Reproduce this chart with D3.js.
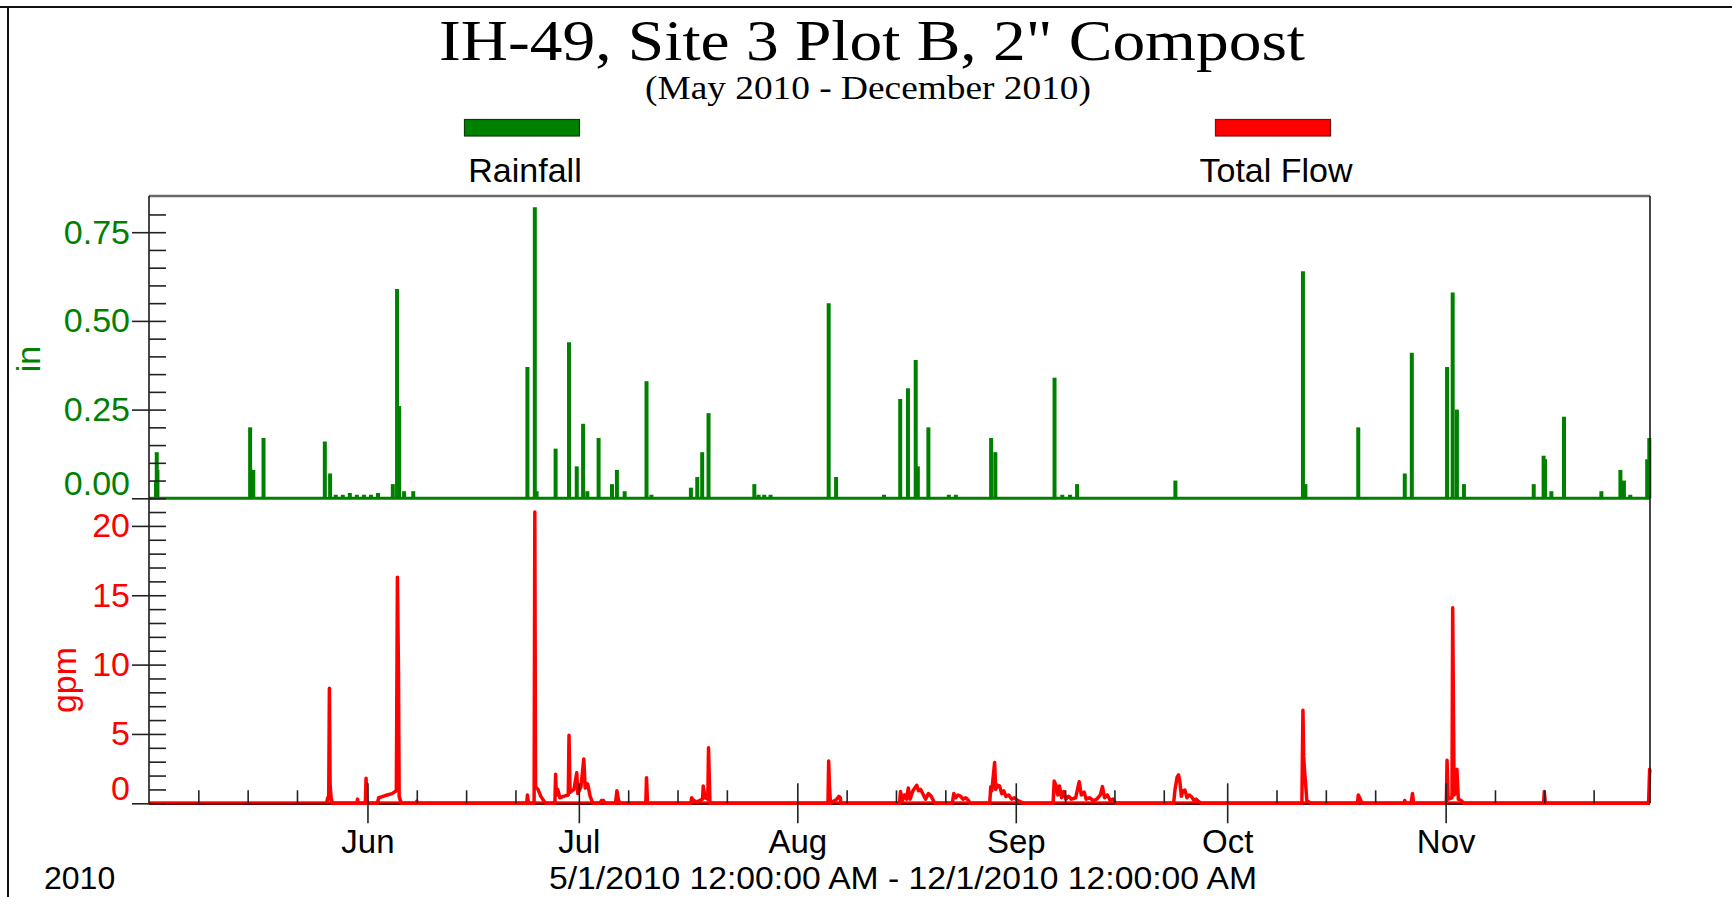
<!DOCTYPE html>
<html>
<head>
<meta charset="utf-8">
<script src="https://cdn.jsdelivr.net/npm/d3@7"></script>
<style>
  html, body { margin: 0; padding: 0; background: #fff; }
  svg { display: block; }
  .sans { font-family: "Liberation Sans", Arial, Helvetica, sans-serif; }
  .serif { font-family: "Liberation Serif", "Times New Roman", serif; }
</style>
</head>
<body>
<svg id="chart" width="1732" height="897"></svg>
<script>
// ---- text ----
const titleText = 'IH-49, Site 3 Plot B, 2" Compost';
const subtitleText = "(May 2010 - December 2010)";
const seriesNames = ["Rainfall", "Total Flow"];
const seriesUnits = ["in", "gpm"];
const seriesColors = ["#008000", "#ff0000"];
const yearLabel = "2010";
const rangeLabel = "5/1/2010 12:00:00 AM - 12/1/2010 12:00:00 AM";

// ---- axes ----
const rainTicks = [0, 0.25, 0.5, 0.75];
const flowTicks = [0, 5, 10, 15, 20];
const monthTicks = ["2010-06-01", "2010-07-01", "2010-08-01", "2010-09-01", "2010-10-01", "2010-11-01"];
const recordStart = "2010-05-01";
const recordDays = 213;

// ---- data: [elapsed days since 2010-05-01 00:00, value] ----
const rainfall = [
  [1.0, 0.05], [1.1, 0.13], [1.2, 0.08], [14.35, 0.20], [14.8, 0.08], [16.25, 0.17],
  [24.95, 0.16], [25.7, 0.07], [26.5, 0.01], [27.5, 0.01], [28.5, 0.015], [29.5, 0.01],
  [30.5, 0.01], [31.5, 0.01], [32.5, 0.015], [34.6, 0.04], [35.2, 0.59], [35.5, 0.26],
  [36.2, 0.02], [37.5, 0.02], [53.7, 0.37], [54.75, 0.82], [55.0, 0.02], [57.7, 0.14],
  [59.6, 0.44], [60.7, 0.09], [61.6, 0.21], [62.2, 0.02], [63.8, 0.17], [65.7, 0.04],
  [66.4, 0.08], [67.5, 0.02], [70.6, 0.33], [71.3, 0.01], [76.9, 0.03], [77.8, 0.06],
  [78.5, 0.13], [79.4, 0.24], [85.9, 0.04], [86.5, 0.01], [87.3, 0.01], [88.2, 0.01],
  [96.45, 0.55], [97.5, 0.06], [104.3, 0.01], [106.6, 0.28], [107.7, 0.31], [108.8, 0.39],
  [109.1, 0.09], [110.6, 0.20], [113.5, 0.01], [114.5, 0.01], [119.5, 0.17], [120.1, 0.13],
  [128.5, 0.34], [129.6, 0.01], [130.7, 0.01], [131.7, 0.04], [145.65, 0.05], [163.75, 0.64],
  [164.1, 0.04], [171.6, 0.20], [178.2, 0.07], [179.2, 0.41], [184.2, 0.37], [185.0, 0.58],
  [185.6, 0.25], [186.6, 0.04], [196.5, 0.04], [197.9, 0.12], [198.1, 0.11], [199.0, 0.02],
  [200.8, 0.23], [206.1, 0.02], [208.8, 0.08], [209.3, 0.05], [210.2, 0.01], [212.6, 0.11],
  [212.9, 0.17]
];

const totalFlow = [
  [25.2, 0], [25.35, 0.4], [25.5, 0.3], [25.6, 8.3], [25.7, 1.3], [25.85, 0.4], [26.0, 0],
  [29.5, 0], [29.6, 0.3], [29.7, 0],
  [30.7, 0], [30.8, 1.8], [30.95, 0],
  [32.4, 0], [32.6, 0.4], [33.2, 0.5], [33.8, 0.6], [34.5, 0.7], [35.1, 0.9], [35.25, 16.3], [35.4, 9.5], [35.5, 0.5], [35.8, 0],
  [37.9, 0], [38.0, 0.15], [38.1, 0],
  [53.6, 0], [53.7, 0.6], [53.85, 0],
  [54.65, 0], [54.75, 21.0], [54.85, 1.2], [55.2, 1.0], [55.6, 0.5], [56.0, 0.2], [56.3, 0],
  [57.6, 0], [57.7, 2.1], [57.8, 0.6], [58.0, 1.0], [58.3, 0.4], [58.8, 0.5], [59.5, 0.6], [59.6, 4.9],
  [59.75, 0.8], [60.3, 1.0], [60.7, 2.2], [60.85, 0.7], [61.3, 1.2], [61.7, 3.2], [61.9, 1.1],
  [62.25, 1.4], [62.6, 0.5], [63.0, 0],
  [64.0, 0], [64.2, 0.2], [64.5, 0.2], [64.7, 0],
  [66.2, 0], [66.4, 0.9], [66.6, 0.3], [66.8, 0],
  [70.5, 0], [70.6, 1.85], [70.75, 0],
  [76.9, 0], [77.0, 0.4], [77.3, 0.2], [77.8, 0.1], [78.55, 0.3], [78.65, 1.25], [78.9, 0.4], [79.3, 0.3], [79.4, 4.0], [79.6, 0],
  [96.35, 0], [96.45, 3.05], [96.55, 1.4], [96.7, 0], [97.6, 0.3], [97.9, 0.5], [98.1, 0.4], [98.2, 0],
  [106.5, 0], [106.65, 0.85], [106.9, 0.2], [107.2, 0.6], [107.5, 0.3], [107.75, 1.1], [108.0, 0.3],
  [108.4, 0.9], [108.95, 1.3], [109.2, 0.9], [109.5, 1.0], [109.9, 0.6], [110.2, 0.3], [110.6, 0.7],
  [111.0, 0.5], [111.3, 0.2], [111.5, 0],
  [114.0, 0], [114.2, 0.7], [114.5, 0.4], [114.8, 0.6], [115.2, 0.5], [115.5, 0.3], [115.9, 0.4], [116.3, 0.2], [116.5, 0],
  [119.3, 0], [119.45, 1.2], [119.6, 0.9], [120.0, 2.95], [120.15, 1.0], [120.4, 1.3], [120.7, 1.25],
  [121.0, 0.7], [121.3, 0.9], [121.6, 0.5], [122.0, 0.6], [122.4, 0.3], [122.8, 0.4], [123.3, 0.2],
  [123.7, 0.1], [124.2, 0],
  [128.3, 0], [128.45, 1.6], [128.7, 1.3], [128.95, 0.6], [129.2, 1.25], [129.5, 0.4], [129.8, 0.85],
  [130.1, 0.3], [130.5, 0.5], [130.9, 0.3], [131.5, 0.4], [132.0, 1.55], [132.3, 0.6], [132.7, 0.8],
  [133.0, 0.3], [133.5, 0.4], [134.0, 0.2], [134.5, 0.3], [135.0, 0.6], [135.3, 1.2], [135.6, 0.4],
  [136.0, 0.6], [136.4, 0.2], [136.8, 0.3], [137.2, 0],
  [145.4, 0], [145.6, 1.0], [145.9, 1.9], [146.1, 2.05], [146.3, 1.5], [146.5, 0.5], [146.7, 0.9],
  [147.0, 0.95], [147.3, 0.4], [147.6, 0.6], [147.9, 0.5], [148.3, 0.2], [148.6, 0.3], [149.0, 0.1], [149.4, 0],
  [163.6, 0], [163.75, 6.7], [163.85, 3.4], [164.0, 2.2], [164.1, 1.6], [164.3, 0.2], [164.6, 0.1], [164.9, 0],
  [171.5, 0], [171.6, 0.6], [171.8, 0.4], [172.0, 0.15], [172.2, 0],
  [178.1, 0], [178.2, 0.2], [178.3, 0],
  [179.1, 0], [179.3, 0.7], [179.45, 0],
  [184.1, 0], [184.2, 3.1], [184.35, 0.3], [184.9, 0.4], [185.0, 14.1], [185.2, 0.6], [185.5, 0.8],
  [185.6, 2.45], [185.8, 0.3], [186.2, 0.2], [186.6, 0],
  [197.9, 0], [198.0, 0.85], [198.15, 0],
  [212.8, 0], [212.95, 2.45], [213.0, 2.2]
];

// ---- layout ----
const X0 = 149, X1 = 1650;
const FRAME_TOP = 196, BASE = 803.3;

const svg = d3.select("#chart");
const parse = d3.utcParse("%Y-%m-%d");
const t0 = parse(recordStart);
const atDay = d => new Date(t0.getTime() + d * 864e5);

const x = d3.scaleUtc().domain([t0, atDay(recordDays)]).range([X0, X1]);
const yRain = d3.scaleLinear().domain([0, 0.75]).range([498.3, 232.2]);
const yFlow = d3.scaleLinear().domain([0, 20]).range([BASE, 525.9]);

// outer page border (top and left)
svg.append("line").attr("x1", 0).attr("x2", 1732).attr("y1", 7).attr("y2", 7)
  .attr("stroke", "#111").attr("stroke-width", 2);
svg.append("line").attr("x1", 8).attr("x2", 8).attr("y1", 7).attr("y2", 897)
  .attr("stroke", "#111").attr("stroke-width", 2);

// titles
svg.append("text").attr("class", "serif")
  .attr("x", 872).attr("y", 60).attr("text-anchor", "middle")
  .attr("font-size", 56).attr("fill", "#000")
  .attr("textLength", 866).attr("lengthAdjust", "spacingAndGlyphs")
  .text(titleText);
svg.append("text").attr("class", "serif")
  .attr("x", 868).attr("y", 99).attr("text-anchor", "middle")
  .attr("font-size", 33).attr("fill", "#000")
  .attr("textLength", 446).attr("lengthAdjust", "spacingAndGlyphs")
  .text(subtitleText);

// legend
const legendX = [522, 1273];
seriesNames.forEach((name, i) => {
  svg.append("rect")
    .attr("x", legendX[i] - 57.5).attr("y", 119.5).attr("width", 115).attr("height", 16.5)
    .attr("fill", seriesColors[i])
    .attr("stroke", i === 0 ? "#0b3d0b" : "#7a1010").attr("stroke-width", 1.2);
  svg.append("text").attr("class", "sans")
    .attr("x", legendX[i] + 3).attr("y", 182).attr("text-anchor", "middle")
    .attr("font-size", 34).attr("fill", "#000")
    .text(name);
});

// ---- rainfall panel ----
const rainG = svg.append("g");
rainG.append("line")
  .attr("x1", X0).attr("x2", X1).attr("y1", yRain(0)).attr("y2", yRain(0))
  .attr("stroke", seriesColors[0]).attr("stroke-width", 3);
rainG.selectAll("line.rain").data(rainfall).join("line")
  .attr("class", "rain")
  .attr("x1", d => x(atDay(d[0]))).attr("x2", d => x(atDay(d[0])))
  .attr("y1", yRain(0)).attr("y2", d => yRain(d[1]))
  .attr("stroke", seriesColors[0]).attr("stroke-width", 4);

// ---- flow panel ----
const flowG = svg.append("g");
flowG.append("line")
  .attr("x1", X0).attr("x2", X1).attr("y1", BASE).attr("y2", BASE)
  .attr("stroke", "#5a1010").attr("stroke-width", 3.5);
flowG.append("line")
  .attr("x1", X0).attr("x2", X1).attr("y1", BASE - 0.8).attr("y2", BASE - 0.8)
  .attr("stroke", seriesColors[1]).attr("stroke-width", 1.6);
flowG.append("path")
  .datum(totalFlow)
  .attr("fill", "none")
  .attr("stroke", seriesColors[1]).attr("stroke-width", 3.5)
  .attr("stroke-linejoin", "round")
  .attr("d", d3.line().x(d => x(atDay(d[0]))).y(d => yFlow(d[1])));

// ---- frame ----
svg.append("line").attr("x1", X0).attr("x2", X1).attr("y1", FRAME_TOP).attr("y2", FRAME_TOP)
  .attr("stroke", "#6a6a6a").attr("stroke-width", 2.5);
svg.append("line").attr("x1", X1).attr("x2", X1).attr("y1", FRAME_TOP).attr("y2", BASE)
  .attr("stroke", "#1a1a1a").attr("stroke-width", 1.6);
svg.append("line").attr("x1", X0).attr("x2", X0).attr("y1", FRAME_TOP).attr("y2", BASE)
  .attr("stroke", "#1a1a1a").attr("stroke-width", 1.6);

// tick-only axes: keep the lines, drop the empty labels
function tickLinesOnly(sel) {
  sel.select(".domain").remove();
  sel.selectAll(".tick text").remove();
  sel.selectAll(".tick line").attr("stroke", "#222").attr("stroke-width", 1.6);
}

// ---- y axes ----
function yAxis(scale, ticks, minorStep, minorMax, fmt, color) {
  const g = svg.append("g").attr("transform", `translate(${X0},0)`);
  const major = g.append("g").call(d3.axisLeft(scale).tickValues(ticks).tickSize(17).tickPadding(2).tickFormat(fmt));
  major.select(".domain").remove();
  major.selectAll(".tick line").attr("stroke", "#222").attr("stroke-width", 1.6);
  const minor = g.append("g").call(d3.axisRight(scale)
    .tickValues(d3.range(0, minorMax + minorStep / 2, minorStep)).tickSize(17));
  tickLinesOnly(minor);
  major.selectAll(".tick text")
    .attr("class", "sans").attr("font-size", 34).attr("fill", color)
    .attr("y", d => (d === 0 ? -15 : 0));
  return g;
}
yAxis(yRain, rainTicks, 0.05, 0.8, d3.format(".2f"), seriesColors[0]);
yAxis(yFlow, flowTicks, 1, 21, d3.format("d"), seriesColors[1]);

// unit titles
[[28, 359, 0], [64, 680, 1]].forEach(([cx, cy, i]) => {
  svg.append("text").attr("class", "sans")
    .attr("transform", `translate(${cx},${cy}) rotate(-90)`)
    .attr("text-anchor", "middle").attr("dy", "0.35em")
    .attr("font-size", 34).attr("fill", seriesColors[i])
    .text(seriesUnits[i]);
});

// ---- time axis ----
const months = monthTicks.map(parse);
const weekly = [];
d3.utcMonths(t0, atDay(recordDays)).forEach(m => {
  [7, 14, 21].forEach(k => weekly.push(d3.utcDay.offset(m, k)));
});

const xg = svg.append("g").attr("transform", `translate(0,${BASE})`);
tickLinesOnly(xg.append("g").call(d3.axisTop(x).tickValues(weekly).tickSize(13)));
tickLinesOnly(xg.append("g").call(d3.axisTop(x).tickValues(months).tickSize(20)));
const xMajor = xg.append("g").call(d3.axisBottom(x).tickValues(months).tickSize(20).tickPadding(6)
  .tickFormat(d3.utcFormat("%b")));
xMajor.select(".domain").remove();
xMajor.selectAll(".tick line").attr("stroke", "#222").attr("stroke-width", 1.6);
xMajor.selectAll(".tick text").attr("class", "sans").attr("font-size", 33).attr("fill", "#000");

// footer labels
svg.append("text").attr("class", "sans")
  .attr("x", 44).attr("y", 889).attr("font-size", 32).attr("fill", "#000")
  .text(yearLabel);
svg.append("text").attr("class", "sans")
  .attr("x", 903).attr("y", 889).attr("text-anchor", "middle")
  .attr("font-size", 32).attr("fill", "#000")
  .attr("textLength", 708).attr("lengthAdjust", "spacingAndGlyphs")
  .text(rangeLabel);
</script>
</body>
</html>
